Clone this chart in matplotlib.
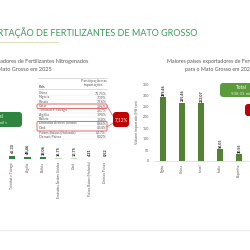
import matplotlib
matplotlib.use("Agg")
import matplotlib.pyplot as plt
from matplotlib.patches import FancyBboxPatch, Rectangle
from matplotlib.lines import Line2D

plt.rcParams['font.family'] = ['Lato', 'DejaVu Sans']

# dados - tabela de participação
paises = ['China', 'Nigéria', 'Rússia', 'Catar', 'Trinidad e Tobago', 'Argélia', 'Bolívia',
          'Emirados Árabes Unidos', 'Omã', 'Países Baixos (Holanda)', 'Demais Países']
participacao = ['71,75%', '7,39%', '7,16%', '3,96%', '2,57%', '1,90%', '1,50%',
                '0,66%', '0,54%', '0,17%', '0,02%']
total_esq = '2.541,10 mil t'

# dados - gráfico da esquerda (parte visível)
paises_esq = ['Trinidad e Tobago', 'Argélia', 'Bolívia', 'Emirados Árabes Unidos', 'Omã',
              'Países Baixos (Holanda)', 'Demais Países']
volumes_esq = [65.30, 48.46, 38.06, 16.75, 13.75, 4.21, 0.52]

# dados - gráfico da direita
paises_dir = ['Egito', 'China', 'Israel', 'Índia', 'Espanha']
volumes_dir = [289.46, 265.46, 263.07, 56.05, 30.55]
total_dir = '938,31 mil t'

W = 250.0
def fx(x): return x / W
def fy(y): return 1 - y / W
def br(v): return f"{v:.2f}".replace('.', ',')

verde_esc = '#2e8540'
verde = '#548235'
verde_claro = '#c5e0b4'
vermelho = '#c00000'
cinza = '#595959'

fig = plt.figure(figsize=(2.5, 2.5), dpi=100)
fig.patch.set_facecolor('white')
T = fig.transFigure

# título
fig.text(fx(197), fy(33), 'IMPORTAÇÃO DE FERTILIZANTES DE MATO GROSSO', ha='right', va='center',
         fontsize=6.5, color='#3a9a5b')
fig.add_artist(Line2D([0, fx(58)], [fy(42), fy(42)], transform=T, color='#dfe5b8', lw=0.8))
fig.add_artist(Line2D([0, 1], [fy(230), fy(230)], transform=T, color='#ececec', lw=0.8))

# ---- gráfico da esquerda
axl = fig.add_axes([fx(4.25), fy(159), 108.5 / W, 90 / W])
cores = [verde_esc] * 3 + [verde_claro] * 4
axl.bar(range(len(paises_esq)), volumes_esq, width=0.4, color=cores)
for i, v in enumerate(volumes_esq):
    axl.text(i, v + 60, br(v), rotation=90, ha='center', va='bottom', fontsize=2.8,
             color='#262626', fontweight='bold')
axl.set_xlim(-0.5, len(paises_esq) - 0.5)
axl.set_ylim(0, 2000)
axl.set_xticks(range(len(paises_esq)))
axl.set_xticklabels(paises_esq, rotation=90, fontsize=2.4, color=cinza)
axl.tick_params(length=0, pad=2)
axl.set_yticks([])
for s in axl.spines.values():
    s.set_visible(False)
axl.patch.set_alpha(0)

fig.text(fx(88), fy(62), 'Principais exportadores de Fertilizantes Nitrogenados', ha='right',
         va='center', fontsize=4.0, color=cinza)
fig.text(fx(52), fy(70), 'para o Mato Grosso em 2025', ha='right', va='center',
         fontsize=4.0, color=cinza)

# tabela
fig.add_artist(Rectangle((fx(37), fy(139)), 71 / W, 61 / W, transform=T, color='white', zorder=2))
fig.add_artist(Line2D([fx(38), fx(107)], [fy(78), fy(78)], transform=T, color='#bfbfbf', lw=0.4, zorder=3))
fig.add_artist(Line2D([fx(38), fx(107)], [fy(89), fy(89)], transform=T, color='#bfbfbf', lw=0.4, zorder=3))
fig.text(fx(94), fy(81), 'Participação nas', ha='center', va='center', fontsize=2.6, color=cinza, zorder=4)
fig.text(fx(94), fy(85), 'importações', ha='center', va='center', fontsize=2.6, color=cinza, zorder=4)
fig.text(fx(39), fy(87), 'País', ha='left', va='center', fontsize=2.6, color=cinza,
         fontweight='bold', zorder=4)
for i, (p, s) in enumerate(zip(paises, participacao)):
    y = 93 + i * 4.35
    fig.text(fx(39), fy(y), p, ha='left', va='center', fontsize=2.5, color=cinza, zorder=4)
    fig.text(fx(106), fy(y), s, ha='right', va='center', fontsize=2.5, color=cinza, zorder=4)
    fig.add_artist(Line2D([fx(38), fx(107)], [fy(y + 2.2), fy(y + 2.2)], transform=T,
                          color='#e3e3e3', lw=0.3, zorder=3))

for (y0, y1) in [(104, 108.5), (121.5, 131)]:
    fig.add_artist(FancyBboxPatch((fx(37), fy(y1)), 70 / W, (y1 - y0) / W, transform=T,
                                  boxstyle='round,pad=0,rounding_size=0.004', fc='none',
                                  ec='#e05555', lw=0.6, zorder=5))
fig.add_artist(Line2D([fx(107), fx(113)], [fy(106), fy(116)], transform=T, color='#e05555', lw=0.5, zorder=5))
fig.add_artist(Line2D([fx(107), fx(113)], [fy(127), fy(123)], transform=T, color='#e05555', lw=0.5, zorder=5))

fig.add_artist(FancyBboxPatch((fx(113), fy(127)), 16 / W, 15 / W, transform=T,
                              boxstyle='round,pad=0,rounding_size=0.012', fc=vermelho, ec='none', zorder=5))
fig.text(fx(121), fy(119.5), '7,12%', ha='center', va='center', fontsize=3.4, color='white', zorder=6)

fig.add_artist(FancyBboxPatch((fx(-30), fy(127)), 52 / W, 15 / W, transform=T,
                              boxstyle='round,pad=0,rounding_size=0.012', fc=verde_esc, ec='none', zorder=5))
fig.text(fx(-2), fy(116.5), 'Total', ha='center', va='center', fontsize=3.4, color='white', zorder=6)
fig.text(fx(-7), fy(122.5), total_esq, ha='center', va='center', fontsize=3.2, color='#dcefdc', zorder=6)

# ---- gráfico da direita
axr = fig.add_axes([fx(153.5), fy(161), 95 / W, 77 / W])
axr.bar(range(len(paises_dir)), volumes_dir, width=0.35, color=verde)
for i, v in enumerate(volumes_dir):
    axr.text(i, v + 5, br(v), rotation=90, ha='center', va='bottom', fontsize=2.7,
             color='#262626', fontweight='bold')
axr.set_xlim(-0.5, len(paises_dir) - 0.5)
axr.set_ylim(0, 350)
axr.set_yticks(range(0, 351, 50))
axr.set_xticks(range(len(paises_dir)))
axr.set_xticklabels(paises_dir, rotation=90, fontsize=2.6, color=cinza)
axr.tick_params(axis='y', labelsize=2.6, labelcolor=cinza, length=0, pad=3)
axr.tick_params(axis='x', length=0, pad=2)
axr.set_ylabel('Volume importado (Mil ton)', fontsize=2.6, color=cinza, labelpad=3)
for k, s in axr.spines.items():
    s.set_visible(k == 'bottom')
axr.spines['bottom'].set_color('#d9d9d9')
axr.spines['bottom'].set_linewidth(0.5)
axr.patch.set_alpha(0)

fig.text(fx(167), fy(62), 'Maiores países exportadores de Fertilizantes Nitrogenados', ha='left',
         va='center', fontsize=3.8, color=cinza)
fig.text(fx(185), fy(70), 'para o Mato Grosso em 2025', ha='left', va='center',
         fontsize=3.8, color=cinza)

fig.add_artist(FancyBboxPatch((fx(220), fy(97)), 50 / W, 14 / W, transform=T,
                              boxstyle='round,pad=0,rounding_size=0.012', fc='#5b9b3c', ec='none', zorder=5))
fig.text(fx(241), fy(87.5), 'Total', ha='center', va='center', fontsize=3.4, color='white', zorder=6)
fig.text(fx(243), fy(93), total_dir, ha='center', va='center', fontsize=3.2, color='#e2f0d9', zorder=6)

fig.add_artist(FancyBboxPatch((fx(245), fy(116)), 30 / W, 12 / W, transform=T,
                              boxstyle='round,pad=0,rounding_size=0.012', fc=vermelho, ec='none', zorder=5))

fig.savefig('out.png', dpi=100, facecolor='white')
